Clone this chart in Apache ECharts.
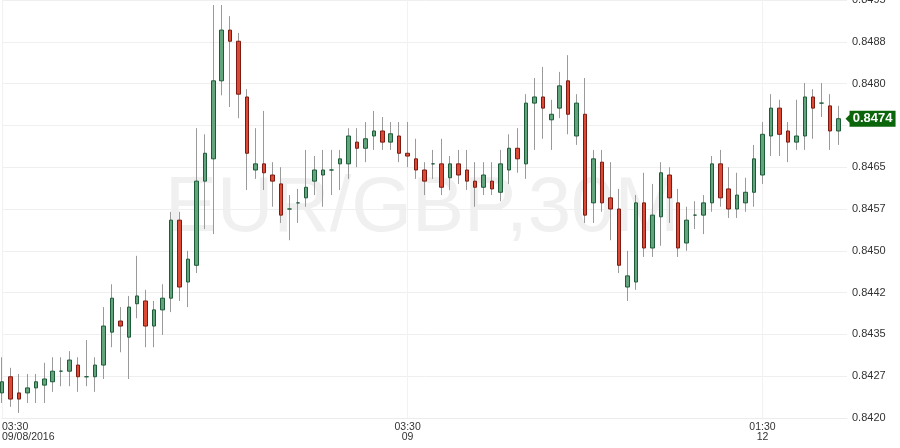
<!DOCTYPE html>
<html><head><meta charset="utf-8">
<script src="https://cdn.jsdelivr.net/npm/echarts@6/dist/echarts.min.js"></script>
<style>html,body{margin:0;padding:0;background:#fff}#c{width:900px;height:448px}</style>
</head><body><div id="c"></div>
<script>
const categories = [
'2016-09-08 03:30','2016-09-08 04:00','2016-09-08 04:30','2016-09-08 05:00','2016-09-08 05:30','2016-09-08 06:00','2016-09-08 06:30','2016-09-08 07:00','2016-09-08 07:30','2016-09-08 08:00',
'2016-09-08 08:30','2016-09-08 09:00','2016-09-08 09:30','2016-09-08 10:00','2016-09-08 10:30','2016-09-08 11:00','2016-09-08 11:30','2016-09-08 12:00','2016-09-08 12:30','2016-09-08 13:00',
'2016-09-08 13:30','2016-09-08 14:00','2016-09-08 14:30','2016-09-08 15:00','2016-09-08 15:30','2016-09-08 16:00','2016-09-08 16:30','2016-09-08 17:00','2016-09-08 17:30','2016-09-08 18:00',
'2016-09-08 18:30','2016-09-08 19:00','2016-09-08 19:30','2016-09-08 20:00','2016-09-08 20:30','2016-09-08 21:00','2016-09-08 21:30','2016-09-08 22:00','2016-09-08 22:30','2016-09-08 23:00',
'2016-09-08 23:30','2016-09-09 00:00','2016-09-09 00:30','2016-09-09 01:00','2016-09-09 01:30','2016-09-09 02:00','2016-09-09 02:30','2016-09-09 03:00','2016-09-09 03:30','2016-09-09 04:00',
'2016-09-09 04:30','2016-09-09 05:00','2016-09-09 05:30','2016-09-09 06:00','2016-09-09 06:30','2016-09-09 07:00','2016-09-09 07:30','2016-09-09 08:00','2016-09-09 08:30','2016-09-09 09:00',
'2016-09-09 09:30','2016-09-09 10:00','2016-09-09 10:30','2016-09-09 11:00','2016-09-09 11:30','2016-09-09 12:00','2016-09-09 12:30','2016-09-09 13:00','2016-09-09 13:30','2016-09-09 14:00',
'2016-09-09 14:30','2016-09-09 15:00','2016-09-09 15:30','2016-09-09 16:00','2016-09-09 16:30','2016-09-09 17:00','2016-09-09 17:30','2016-09-09 18:00','2016-09-09 18:30','2016-09-09 19:00',
'2016-09-09 19:30','2016-09-09 20:00','2016-09-09 20:30','2016-09-11 22:00','2016-09-11 22:30','2016-09-11 23:00','2016-09-11 23:30','2016-09-12 00:00','2016-09-12 00:30','2016-09-12 01:00',
'2016-09-12 01:30','2016-09-12 02:00','2016-09-12 02:30','2016-09-12 03:00','2016-09-12 03:30','2016-09-12 04:00','2016-09-12 04:30','2016-09-12 05:00','2016-09-12 05:30','2016-09-12 06:00',
'2016-09-12 06:30'
];
const open = [
0.84245,0.84274,0.84245,0.84245,0.84254,0.84259,0.84265,0.84284,0.84284,0.84295,
0.84274,0.84274,0.84295,0.84354,0.84374,0.84345,0.84405,0.84410,0.84365,0.84394,
0.84415,0.84555,0.84444,0.84474,0.84625,0.84665,0.84805,0.84896,0.84876,0.84776,
0.84645,0.84656,0.84636,0.84620,0.84575,0.84586,0.84595,0.84625,0.84636,0.84645,
0.84656,0.84656,0.84695,0.84684,0.84706,0.84715,0.84695,0.84706,0.84675,0.84665,
0.84645,0.84656,0.84656,0.84631,0.84656,0.84645,0.84625,0.84614,0.84625,0.84605,
0.84645,0.84684,0.84656,0.84765,0.84776,0.84735,0.84756,0.84805,0.84706,0.84745,
0.84586,0.84659,0.84595,0.84575,0.84435,0.84444,0.84586,0.84505,0.84561,0.84636,
0.84586,0.84514,0.84564,0.84564,0.84586,0.84656,0.84611,0.84575,0.84586,0.84605,
0.84636,0.84706,0.84756,0.84715,0.84695,0.84706,0.84776,0.84765,0.84760,0.84715
];
const close = [
0.84265,0.84234,0.84234,0.84254,0.84265,0.84270,0.84284,0.84284,0.84304,0.84274,
0.84274,0.84295,0.84365,0.84415,0.84365,0.84399,0.84419,0.84365,0.84394,0.84415,
0.84555,0.84435,0.84485,0.84625,0.84675,0.84805,0.84896,0.84876,0.84781,0.84675,
0.84656,0.84640,0.84625,0.84564,0.84575,0.84586,0.84614,0.84645,0.84645,0.84645,
0.84665,0.84706,0.84684,0.84701,0.84715,0.84695,0.84710,0.84675,0.84670,0.84645,
0.84625,0.84656,0.84614,0.84656,0.84636,0.84625,0.84614,0.84636,0.84611,0.84656,
0.84684,0.84665,0.84765,0.84776,0.84756,0.84745,0.84796,0.84745,0.84765,0.84564,
0.84665,0.84586,0.84575,0.84474,0.84455,0.84586,0.84505,0.84564,0.84640,0.84595,
0.84505,0.84555,0.84564,0.84586,0.84656,0.84595,0.84575,0.84600,0.84605,0.84665,
0.84709,0.84756,0.84709,0.84695,0.84706,0.84776,0.84756,0.84765,0.84715,0.84737
];
const low = [
0.84227,0.84220,0.84209,0.84227,0.84227,0.84227,0.84247,0.84257,0.84257,0.84247,
0.84257,0.84247,0.84270,0.84327,0.84318,0.84270,0.84379,0.84327,0.84327,0.84349,
0.84390,0.84410,0.84399,0.84460,0.84539,0.84530,0.84779,0.84758,0.84738,0.84609,
0.84629,0.84609,0.84579,0.84550,0.84519,0.84550,0.84579,0.84600,0.84579,0.84600,
0.84609,0.84629,0.84650,0.84659,0.84681,0.84681,0.84681,0.84659,0.84650,0.84629,
0.84600,0.84629,0.84600,0.84609,0.84620,0.84609,0.84579,0.84600,0.84600,0.84589,
0.84620,0.84640,0.84629,0.84681,0.84701,0.84681,0.84738,0.84709,0.84690,0.84550,
0.84550,0.84570,0.84519,0.84460,0.84410,0.84430,0.84489,0.84489,0.84509,0.84550,
0.84489,0.84500,0.84539,0.84530,0.84570,0.84579,0.84559,0.84559,0.84570,0.84579,
0.84620,0.84670,0.84670,0.84659,0.84681,0.84681,0.84701,0.84740,0.84681,0.84690
];
const high = [
0.84309,0.84290,0.84279,0.84279,0.84279,0.84299,0.84309,0.84309,0.84320,0.84309,
0.84340,0.84309,0.84399,0.84440,0.84399,0.84419,0.84491,0.84430,0.84410,0.84440,
0.84570,0.84570,0.84500,0.84720,0.84709,0.84941,0.84941,0.84921,0.84891,0.84790,
0.84720,0.84751,0.84659,0.84650,0.84600,0.84611,0.84681,0.84670,0.84681,0.84681,
0.84681,0.84720,0.84720,0.84731,0.84751,0.84740,0.84731,0.84731,0.84731,0.84701,
0.84659,0.84681,0.84701,0.84670,0.84681,0.84681,0.84659,0.84659,0.84659,0.84681,
0.84709,0.84720,0.84781,0.84810,0.84830,0.84771,0.84821,0.84851,0.84781,0.84810,
0.84681,0.84681,0.84659,0.84611,0.84500,0.84600,0.84640,0.84620,0.84659,0.84650,
0.84611,0.84579,0.84589,0.84600,0.84670,0.84681,0.84650,0.84640,0.84631,0.84690,
0.84731,0.84781,0.84771,0.84731,0.84771,0.84801,0.84790,0.84801,0.84781,0.84760
];
const yTickLabels = ['0.8420','0.8427','0.8435','0.8442','0.8450','0.8457','0.8465','0.8472','0.8480','0.8488','0.8495'];
const xLabelText = {0: '03:30\n09/08/2016', 48: '03:30\n09', 90: '01:30\n12'};
const watermark = 'EUR/GBP,30M';
const yMin = 0.8420, yMax = 0.8495, yStep = 0.00075;

const FONT = "'Liberation Sans', Arial, sans-serif";
const last = close.length - 1;
const ohlcData = open.map((o, i) => [o, close[i], low[i], high[i]]);
const bodyData = open.map((o, i) => [o, close[i], Math.min(o, close[i]), Math.max(o, close[i])]);

const chart = echarts.init(document.getElementById('c'), null, {renderer: 'canvas'});
chart.setOption({
  animation: false,
  backgroundColor: '#ffffff',
  grid: {left: 2, right: 53, top: 0, bottom: 30, outerBoundsMode: 'none', containLabel: false},
  graphic: [{
    type: 'text', x: 165, y: 209, z: -10, silent: true,
    style: {text: watermark, fill: '#f0f0f0', font: '78px ' + FONT, verticalAlign: 'middle'}
  }],
  xAxis: {
    type: 'category', data: categories, boundaryGap: false,
    axisLine: {show: true, lineStyle: {color: '#ececec'}},
    axisTick: {show: false},
    axisLabel: {
      interval: (i) => (i in xLabelText),
      formatter: (v, i) => xLabelText[i] || '',
      color: '#333', fontSize: 10.5, lineHeight: 10, margin: 4, fontFamily: FONT,
      alignMinLabel: 'left'
    },
    splitLine: {show: true, interval: (i) => (i in xLabelText), lineStyle: {color: '#f2f2f2'}}
  },
  yAxis: {
    type: 'value', position: 'right', min: yMin, max: yMax, interval: yStep, scale: true,
    axisLine: {show: false}, axisTick: {show: false},
    splitLine: {lineStyle: {color: '#efefef'}},
    axisLabel: {
      margin: 5, color: '#333', fontSize: 11, fontFamily: FONT, showMaxLabel: true, showMinLabel: true,
      formatter: (v) => (Math.abs(v - close[last]) < yStep * 0.4) ? '' : (yTickLabels[Math.round((v - yMin) / yStep)] || '')
    }
  },
  series: [{
    type: 'candlestick', data: ohlcData, barWidth: 1, clip: false, silent: true,
    itemStyle: {color: '#9a9a9a', color0: '#9a9a9a', borderColor: '#9a9a9a', borderColor0: '#9a9a9a', borderColorDoji: '#9a9a9a', borderWidth: 1}
  }, {
    type: 'candlestick', data: bodyData, barWidth: 4, clip: false, silent: true,
    itemStyle: {color: '#62a47c', color0: '#dc4a35', borderColor: '#1e5c39', borderColor0: '#7d1b12', borderColorDoji: '#1e5c39', borderWidth: 1},
    markPoint: {
      silent: true,
      symbol: 'path://M0,8 L4,4 L4,0 L50,0 L50,16 L4,16 L4,12 Z',
      symbolSize: [50, 16], symbolOffset: [32, 0], symbolKeepAspect: false,
      itemStyle: {color: '#0b650b'},
      label: {show: true, position: 'inside', color: '#fff', fontWeight: 'bold', fontSize: 13, fontFamily: FONT, offset: [2, 0],
        formatter: () => close[last].toFixed(4)},
      data: [{coord: [last, close[last]]}]
    }
  }]
});
</script></body></html>
